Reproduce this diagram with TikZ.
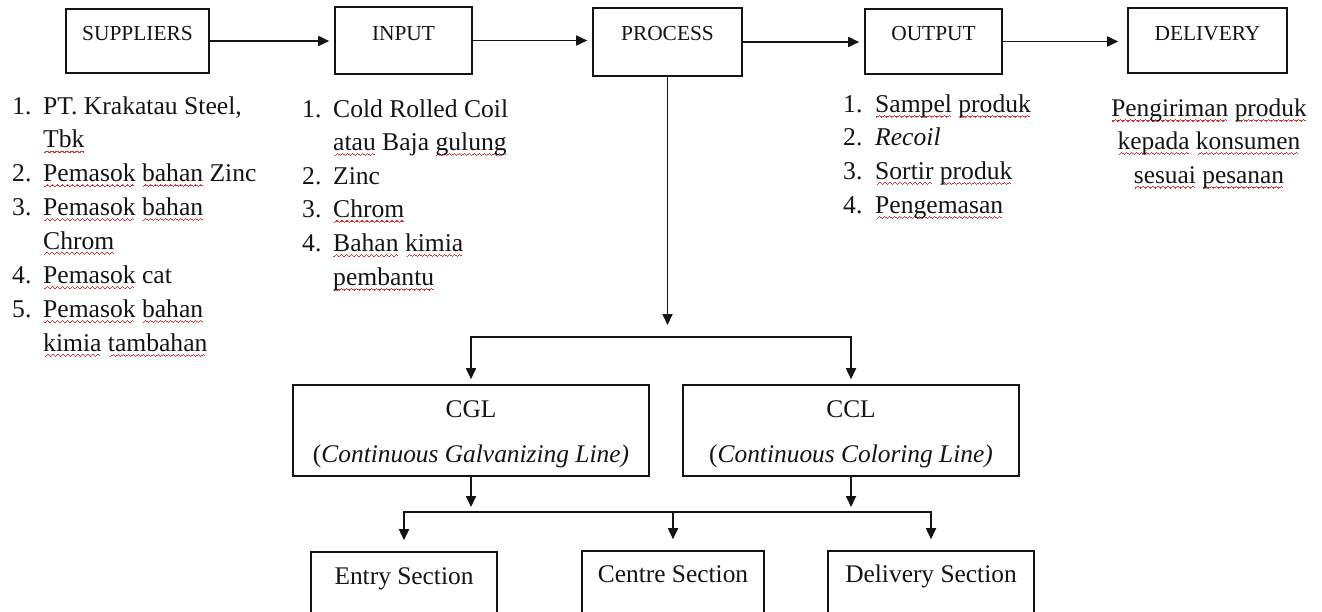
\documentclass[tikz,border=0pt]{standalone}
\usepackage{fontspec}
\setmainfont{Liberation Serif}
\usetikzlibrary{arrows.meta}

\definecolor{ink}{RGB}{20,20,20}
\definecolor{squig}{RGB}{214,52,52}

% red wavy spell-check underline, built from small stepped rules
\newsavebox\sqbox
\newcommand\wavecell{\hbox{%
  \rule{1.25pt}{1.1pt}%
  \raisebox{0.9pt}{\rule{1.25pt}{1.1pt}}%
  \raisebox{1.8pt}{\rule{1.25pt}{1.1pt}}%
  \raisebox{0.9pt}{\rule{1.25pt}{1.1pt}}}}
\newcommand\sq[1]{\sbox\sqbox{#1}\leavevmode
  \rlap{\textcolor{squig}{\lower5.5pt\hbox to\wd\sqbox{\cleaders\wavecell\hfil}}}%
  \usebox\sqbox}

\tikzset{
  every node/.style={text=ink},
  topbox/.style={draw=ink, line width=1.6pt, inner sep=0pt, anchor=base,
    font=\fontsize{21.4}{24}\selectfont},
  flowbox/.style={draw=ink, line width=1.6pt, inner sep=0pt, anchor=base,
    font=\fontsize{25.4}{30}\selectfont},
  flowtext/.style={inner sep=0pt, anchor=base, font=\fontsize{25.4}{30}\selectfont},
  listtext/.style={anchor=base west, inner sep=0pt},
  arr/.style={draw=ink, line width=1.7pt, line cap=rect,
    -{Triangle[length=11pt,width=10pt]}},
}

\begin{document}
\begin{tikzpicture}[x=1pt,y=-1pt]
  \path[use as bounding box, fill=white] (0,0) rectangle (1322,611);
  \clip (0,0) rectangle (1322,611);

  % main chain
  \node[topbox, minimum width=143pt, text height=31pt, text depth=33pt] (sup) at (137.5,40) {SUPPLIERS};
  \node[topbox, minimum width=137pt, text height=33pt, text depth=34pt] (inp) at (403.5,40) {INPUT};
  \node[topbox, minimum width=149pt, text height=32pt, text depth=36pt] (proc) at (667.5,40) {PROCESS};
  \node[topbox, minimum width=137pt, text height=31pt, text depth=34pt] (outp) at (933.5,40) {OUTPUT};
  \node[topbox, minimum width=159pt, text height=32pt, text depth=33pt] (deliv) at (1207.5,40) {DELIVERY};

  \draw[arr, shorten >=5pt] (sup.east) -- (sup.east -| inp.west);
  \draw[arr, shorten >=5pt] (inp.east) -- (inp.east -| proc.west);
  \draw[arr, shorten >=5pt] (proc.east) -- (proc.east -| outp.west);
  \draw[arr, shorten >=9pt] (outp.east) -- (outp.east -| deliv.west);

  % item lists under the chain
  \node[listtext, font=\fontsize{25.6}{33.9}\selectfont] (suplist) at (12,114) {%
    \begin{tabular}[t]{@{}p{31pt}@{}l@{}}
      1. & PT. Krakatau Steel,\\
         & \sq{Tbk}\\
      2. & \sq{Pemasok} \sq{bahan} Zinc\\
      3. & \sq{Pemasok} \sq{bahan}\\
         & \sq{Chrom}\\
      4. & \sq{Pemasok} cat\\
      5. & \sq{Pemasok} \sq{bahan}\\
         & \sq{kimia} \sq{tambahan}
    \end{tabular}};

  \node[listtext, font=\fontsize{25.6}{33.6}\selectfont] (inplist) at (302,117) {%
    \begin{tabular}[t]{@{}p{31pt}@{}l@{}}
      1. & Cold Rolled Coil\\
         & \sq{atau} Baja \sq{gulung}\\
      2. & Zinc\\
      3. & \sq{Chrom}\\
      4. & \sq{Bahan} \sq{kimia}\\
         & \sq{pembantu}
    \end{tabular}};

  \node[listtext, font=\fontsize{25.6}{33.7}\selectfont] (outlist) at (843,112) {%
    \begin{tabular}[t]{@{}p{32pt}@{}l@{}}
      1. & \sq{Sampel} \sq{produk}\\
      2. & \textit{Recoil}\\
      3. & \sq{Sortir} \sq{produk}\\
      4. & \sq{Pengemasan}
    \end{tabular}};

  \node[inner sep=0pt, anchor=base, font=\fontsize{25.4}{33.5}\selectfont] (delivtext) at (1209,116) {%
    \begin{tabular}[t]{@{}c@{}}
      \sq{Pengiriman} \sq{produk}\\
      \sq{kepada} \sq{konsumen}\\
      \sq{sesuai} \sq{pesanan}
    \end{tabular}};

  % production lines
  \node[flowbox, minimum width=356pt, text height=32pt, text depth=59pt] (cgl) at (471,417) {CGL};
  \node[flowtext] (cglsub) at (471,462) {(\textit{Continuous Galvanizing Line)}};
  \node[flowbox, minimum width=336pt, text height=32pt, text depth=59pt] (ccl) at (851,417) {CCL};
  \node[flowtext] (cclsub) at (851,462) {(\textit{Continuous Coloring Line)}};

  \coordinate (ptip) at (667.5,325);
  \coordinate (split1) at (667.5,337);
  \draw[arr] (proc.south) -- (ptip);
  \draw[arr, shorten >=5pt] (split1 -| ccl.north) -- (split1 -| cgl.north) -- (cgl.north);
  \draw[arr, shorten >=5pt] (split1 -| ccl.north) -- (ccl.north);

  % sections
  \node[flowbox, minimum width=186pt, text height=32pt, text depth=50pt] (esec) at (404,584) {Entry Section};
  \node[flowbox, minimum width=182pt, text height=31pt, text depth=50pt] (csec) at (673,582) {Centre Section};
  \node[flowbox, minimum width=206pt, text height=31pt, text depth=50pt] (dsec) at (931,582) {Delivery Section};

  \coordinate (tip2) at (0,507);
  \coordinate (split2) at (0,512);
  \draw[arr] (cgl.south) -- (cgl.south |- tip2);
  \draw[arr] (ccl.south) -- (ccl.south |- tip2);
  \draw[arr, shorten >=11pt] (split2 -| dsec.north) -- (split2 -| esec.north) -- (esec.north);
  \draw[arr, shorten >=11pt] (split2 -| dsec.north) -- (dsec.north);
  \draw[arr, shorten >=11pt] (split2 -| csec.north) -- (csec.north);
\end{tikzpicture}
\end{document}
